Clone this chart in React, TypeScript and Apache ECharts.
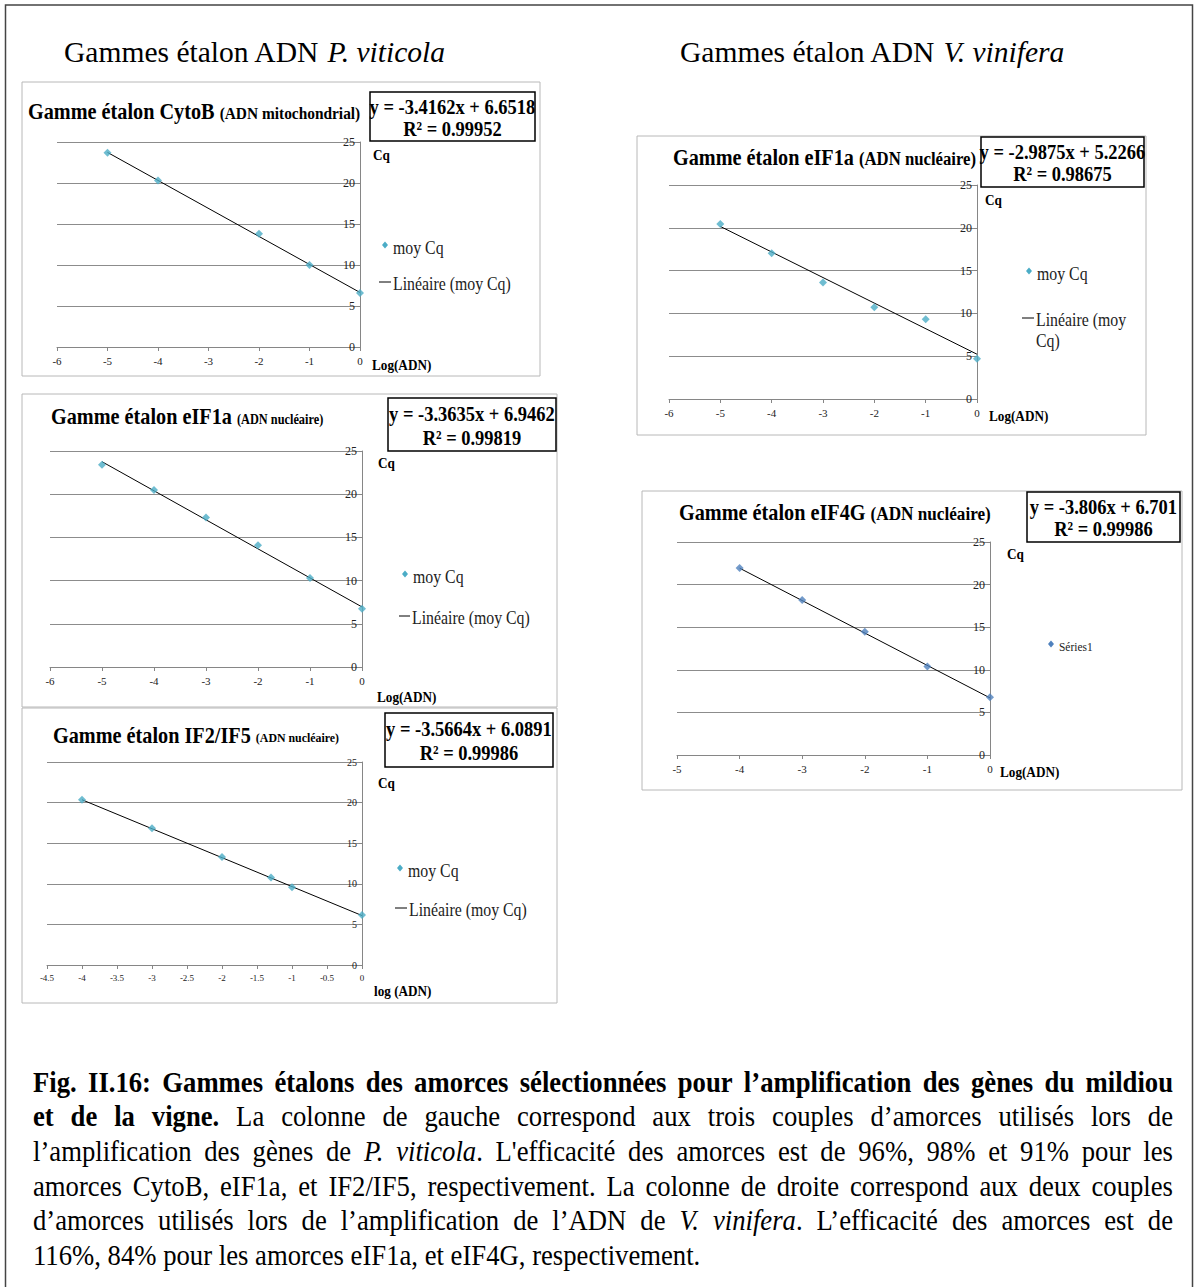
import React, { useEffect, useRef } from "react";
import * as echarts from "echarts";

// ---------- DATA ----------
const xCytoB = [-5, -4, -2, -1, 0];
const cqCytoB = [23.7, 20.3, 13.8, 10.0, 6.6];
const trendCytoB = [[-5, 23.73], [0, 6.65]];

const xEif1aP = [-5, -4, -3, -2, -1, 0];
const cqEif1aP = [23.4, 20.5, 17.3, 14.1, 10.3, 6.75];
const trendEif1aP = [[-5, 23.76], [0, 6.95]];

const xIf2 = [-4, -3, -2, -1.3, -1, 0];
const cqIf2 = [20.35, 16.85, 13.3, 10.77, 9.58, 6.17];
const trendIf2 = [[-4, 20.35], [0, 6.09]];

const xEif1aV = [-5, -4, -3, -2, -1, 0];
const cqEif1aV = [20.45, 17.03, 13.6, 10.73, 9.33, 4.7];
const trendEif1aV = [[-5, 20.16], [0, 5.23]];

const xEif4g = [-4, -3, -2, -1, 0];
const cqEif4g = [21.95, 18.18, 14.46, 10.38, 6.78];
const trendEif4g = [[-4, 21.93], [0, 6.7]];

const yTicks = { min: 0, max: 25, interval: 5 };

const headingLeft = ["Gammes étalon ADN ", "P. viticola"];
const headingRight = ["Gammes étalon ADN ", "V. vinifera"];

type Seg = { t: string; w?: "bold" | "normal"; i?: boolean };
const captionLines: { segs: Seg[]; justify: boolean }[] = [
  { segs: [{ t: "Fig. II.16: Gammes étalons des amorces sélectionnées pour l’amplification des gènes du mildiou", w: "bold" }], justify: true },
  { segs: [{ t: "et de la vigne.", w: "bold" }, { t: " La colonne de gauche correspond aux trois couples d’amorces utilisés lors de" }], justify: true },
  { segs: [{ t: "l’amplification des gènes de " }, { t: "P. viticola", i: true }, { t: ". L'efficacité des amorces est de 96%, 98% et 91% pour les" }], justify: true },
  { segs: [{ t: "amorces CytoB, eIF1a, et IF2/IF5, respectivement. La colonne de droite correspond aux deux couples" }], justify: true },
  { segs: [{ t: "d’amorces utilisés lors de l’amplification de l’ADN de " }, { t: "V. vinifera", i: true }, { t: ". L’efficacité des amorces est de" }], justify: true },
  { segs: [{ t: "116%, 84% pour les amorces eIF1a, et eIF4G, respectivement." }], justify: false },
];

// ---------- LAYOUT ----------
const FONT = '"Liberation Serif", "Times New Roman", serif';
const SX = 0.88;
const TEAL = "#4bacc6";
const BLUE = "#4f81bd";

type Panel = {
  frame: [number, number, number, number];
  grid: [number, number, number, number];
  xmin: number; xinterval: number; tickFont: number;
  xs: number[]; ys: number[]; trend: number[][]; color: string;
  title: string; sub: string; titleX: number; titleY: number; titleSize: number; subSize: number; subGap: number;
  eqBox: [number, number, number, number]; eq1: string; eq2: string; eqSize: number;
  cq: [number, number]; logX: [number, number]; logText: string;
  legend: { marker: [number, number]; text: string; textSize: number; line?: [number, number, number]; lineText?: string[] };
};

const panels: Panel[] = [
  {
    frame: [22, 82, 518, 294], grid: [57, 142, 303, 205],
    xmin: -6, xinterval: 1, tickFont: 11, xs: xCytoB, ys: cqCytoB, trend: trendCytoB, color: TEAL,
    title: "Gamme étalon CytoB", sub: "(ADN mitochondrial)", titleX: 28, titleY: 112, titleSize: 23, subSize: 17.5, subGap: 5,
    eqBox: [370, 92, 165, 49], eq1: "y = -3.4162x + 6.6518", eq2: "R² = 0.99952", eqSize: 21,
    cq: [373, 155], logX: [372, 365], logText: "Log(ADN)",
    legend: { marker: [385, 245], text: "moy Cq", textSize: 18, line: [379, 391, 282], lineText: ["Linéaire (moy Cq)"] },
  },
  {
    frame: [22, 394, 535, 313], grid: [50, 451, 312, 216],
    xmin: -6, xinterval: 1, tickFont: 11, xs: xEif1aP, ys: cqEif1aP, trend: trendEif1aP, color: TEAL,
    title: "Gamme étalon eIF1a", sub: "(ADN nucléaire)", titleX: 51, titleY: 417, titleSize: 23, subSize: 14, subGap: 5,
    eqBox: [388, 398, 168, 53], eq1: "y = -3.3635x + 6.9462", eq2: "R² = 0.99819", eqSize: 21,
    cq: [378, 463], logX: [377, 697], logText: "Log(ADN)",
    legend: { marker: [405, 574], text: "moy Cq", textSize: 18, line: [399, 410, 616], lineText: ["Linéaire (moy Cq)"] },
  },
  {
    frame: [22, 708, 535, 295], grid: [47, 762, 315, 203],
    xmin: -4.5, xinterval: 0.5, tickFont: 9, xs: xIf2, ys: cqIf2, trend: trendIf2, color: TEAL,
    title: "Gamme étalon IF2/IF5", sub: "(ADN nucléaire)", titleX: 53, titleY: 736, titleSize: 23, subSize: 13.5, subGap: 5,
    eqBox: [385, 713, 168, 54], eq1: "y = -3.5664x + 6.0891", eq2: "R² = 0.99986", eqSize: 21,
    cq: [378, 783], logX: [374, 991], logText: "log (ADN)",
    legend: { marker: [400, 868], text: "moy Cq", textSize: 18, line: [395, 407, 908], lineText: ["Linéaire (moy Cq)"] },
  },
  {
    frame: [637, 136, 509, 299], grid: [669, 185, 308, 214],
    xmin: -6, xinterval: 1, tickFont: 11, xs: xEif1aV, ys: cqEif1aV, trend: trendEif1aV, color: TEAL,
    title: "Gamme étalon eIF1a", sub: "(ADN nucléaire)", titleX: 673, titleY: 158, titleSize: 23, subSize: 19, subGap: 5,
    eqBox: [981, 137, 163, 50], eq1: "y = -2.9875x + 5.2266", eq2: "R² = 0.98675", eqSize: 21,
    cq: [985, 200], logX: [989, 416], logText: "Log(ADN)",
    legend: { marker: [1029, 271], text: "moy Cq", textSize: 18, line: [1022, 1034, 318], lineText: ["Linéaire (moy", "Cq)"] },
  },
  {
    frame: [642, 491, 540, 299], grid: [677, 542, 313, 213],
    xmin: -5, xinterval: 1, tickFont: 11, xs: xEif4g, ys: cqEif4g, trend: trendEif4g, color: BLUE,
    title: "Gamme étalon eIF4G", sub: "(ADN nucléaire)", titleX: 679, titleY: 513, titleSize: 23, subSize: 19.5, subGap: 5,
    eqBox: [1027, 492, 153, 50], eq1: "y = -3.806x + 6.701", eq2: "R² = 0.99986", eqSize: 21,
    cq: [1007, 554], logX: [1000, 772], logText: "Log(ADN)",
    legend: { marker: [1051, 644], text: "Séries1", textSize: 13 },
  },
];

const CAPTION = { x0: 33, x1: 1173, y0: 1082, lh: 34.6, size: 29, sx: 0.92 };

let _ctx: CanvasRenderingContext2D | null = null;
function ctx2d() {
  if (!_ctx) _ctx = document.createElement("canvas").getContext("2d");
  return _ctx!;
}
function fontOf(s: { w?: string; i?: boolean }, size: number) {
  return `${s.i ? "italic " : ""}${s.w === "bold" ? "bold " : ""}${size}px ${FONT}`;
}
function measure(font: string, t: string) {
  const c = ctx2d();
  c.font = font;
  return c.measureText(t).width;
}

function buildCaption(): any[] {
  const els: any[] = [];
  captionLines.forEach((line, li) => {
    const tokens: { s: Seg; txt: string; spaceBefore: boolean }[] = [];
    let pending = false;
    line.segs.forEach((seg) => {
      let cur = "";
      let curSpace = false;
      for (const ch of seg.t) {
        if (ch === " ") {
          if (cur) { tokens.push({ s: seg, txt: cur, spaceBefore: curSpace }); cur = ""; }
          pending = true;
        } else {
          if (cur === "") { curSpace = pending && tokens.length > 0; pending = false; }
          cur += ch;
        }
      }
      if (cur) tokens.push({ s: seg, txt: cur, spaceBefore: curSpace });
    });
    const size = CAPTION.size;
    const sx = CAPTION.sx;
    const spaceW = measure(fontOf({}, size), " ") * sx;
    const widths = tokens.map((w) => measure(fontOf(w.s, size), w.txt) * sx);
    const nSpaces = tokens.filter((w) => w.spaceBefore).length;
    const wordsW = widths.reduce((a, b) => a + b, 0);
    const target = CAPTION.x1 - CAPTION.x0;
    let gap = spaceW;
    let sc = 1;
    if (line.justify) {
      gap = (target - wordsW) / Math.max(1, nSpaces);
      if (gap < spaceW * 0.8) {
        gap = spaceW * 0.8;
        sc = (target - gap * nSpaces) / wordsW;
      }
    }
    let x = CAPTION.x0;
    const y = CAPTION.y0 + li * CAPTION.lh;
    tokens.forEach((w, wi) => {
      if (w.spaceBefore) x += gap;
      els.push({
        type: "text", x, y, scaleX: sx * sc,
        style: {
          text: w.txt, x: 0, y: 0, fill: "#000",
          font: fontOf(w.s, size),
          textAlign: "left", textVerticalAlign: "middle",
        },
      });
      x += widths[wi] * sc;
    });
  });
  return els;
}

function txt(text: string, x: number, y: number, size: number, opts: any = {}) {
  return {
    type: "text", x, y, scaleX: opts.sx ?? SX, z: 10,
    style: {
      text, x: 0, y: 0, fill: opts.fill ?? "#000",
      font: `${opts.italic ? "italic " : ""}${opts.bold ? "bold " : ""}${size}px ${FONT}`,
      textAlign: opts.align ?? "left", textVerticalAlign: "middle",
    },
  };
}

function buildOption() {
  const grid: any[] = [], xAxis: any[] = [], yAxis: any[] = [], series: any[] = [], graphic: any[] = [];
  // outer border
  graphic.push({ type: "rect", shape: { x: 5.5, y: 5, width: 1187, height: 1300 }, style: { fill: "none", stroke: "#444", lineWidth: 1.5 } });
  // headings
  const hs = 30;
  const hsx = 0.985;
  [[headingLeft, 64], [headingRight, 680]].forEach(([h, x]: any) => {
    graphic.push({
      type: "text", x, y: 51, scaleX: hsx,
      style: { text: `{n|${h[0]}}{i|${h[1]}}`, x: 0, y: 0, textVerticalAlign: "middle",
        rich: { n: { font: `${hs}px ${FONT}`, fill: "#000" }, i: { font: `italic ${hs}px ${FONT}`, fill: "#000" } } },
    });
  });

  panels.forEach((p, i) => {
    const [fx, fy, fw, fh] = p.frame;
    graphic.push({ type: "rect", shape: { x: fx, y: fy, width: fw, height: fh }, style: { fill: "#fff", stroke: "#b8b8b8", lineWidth: 1 }, z: -10 });
    const [gl, gt, gw, gh] = p.grid;
    grid.push({ left: gl, top: gt, width: gw, height: gh, containLabel: false });
    xAxis.push({
      gridIndex: i, type: "value", min: p.xmin, max: 0, interval: p.xinterval, position: "bottom",
      axisLine: { show: true, onZero: false, lineStyle: { color: "#868686", width: 1 } },
      axisTick: { show: true, length: 4, lineStyle: { color: "#868686" } },
      axisLabel: { show: true, fontFamily: FONT, fontSize: p.tickFont, color: "#222", margin: 8,
        formatter: (v: number) => String(Math.round(v * 10) / 10) },
      splitLine: { show: false },
    });
    yAxis.push({
      gridIndex: i, type: "value", min: yTicks.min, max: yTicks.max, interval: yTicks.interval, position: "right",
      axisLine: { show: true, onZero: false, lineStyle: { color: "#868686", width: 1 } },
      axisTick: { show: true, length: 3, inside: true, lineStyle: { color: "#868686" } },
      axisLabel: { show: true, inside: true, fontFamily: FONT, fontSize: p.tickFont + 1, color: "#222", margin: 5 },
      splitLine: { show: true, lineStyle: { color: "#8c8c8c", width: 1 } },
    });
    series.push({
      type: "line", xAxisIndex: i, yAxisIndex: i, data: p.trend, symbol: "none", silent: true,
      lineStyle: { color: "#000", width: 1 }, z: 3,
    });
    series.push({
      type: "scatter", xAxisIndex: i, yAxisIndex: i, data: p.xs.map((x, k) => [x, p.ys[k]]),
      symbol: "diamond", symbolSize: 8, itemStyle: { color: p.color }, z: 4,
    });
    // title
    graphic.push(txt(p.title, p.titleX, p.titleY, p.titleSize, { bold: true }));
    const tw = measure(`bold ${p.titleSize}px ${FONT}`, p.title) * SX;
    graphic.push(txt(p.sub, p.titleX + tw + p.subGap, p.titleY + (p.titleSize - p.subSize) * 0.22, p.subSize, { bold: true }));
    // equation box
    const [ex, ey, ew, eh] = p.eqBox;
    graphic.push({ type: "rect", shape: { x: ex, y: ey, width: ew, height: eh }, style: { fill: "#fff", stroke: "#000", lineWidth: 1.5 }, z: 5 });
    const ecx = ex + ew / 2;
    const eqFont = `bold ${p.eqSize}px ${FONT}`;
    graphic.push(txt(p.eq1, ecx - (measure(eqFont, p.eq1) * SX) / 2, ey + eh * 0.29, p.eqSize, { bold: true }));
    graphic.push(txt(p.eq2, ecx - (measure(eqFont, p.eq2) * SX) / 2, ey + eh * 0.74, p.eqSize, { bold: true }));
    // Cq & Log(ADN)
    graphic.push(txt("Cq", p.cq[0], p.cq[1], 15, { bold: true }));
    graphic.push(txt(p.logText, p.logX[0], p.logX[1], 15, { bold: true }));
    // legend
    const lg = p.legend;
    const [mx, my] = lg.marker;
    graphic.push({ type: "polygon", shape: { points: [[mx, my - 3.5], [mx + 3, my], [mx, my + 3.5], [mx - 3, my]] }, style: { fill: p.color }, z: 10 });
    graphic.push(txt(lg.text, mx + 8, my + 3, lg.textSize, { fill: "#222" }));
    if (lg.line && lg.lineText) {
      const [l1, l2, ly] = lg.line;
      graphic.push({ type: "line", shape: { x1: l1, y1: ly, x2: l2, y2: ly }, style: { stroke: "#000", lineWidth: 1 }, z: 10 });
      lg.lineText.forEach((t, k) => graphic.push(txt(t, l2 + 2, ly + 2 + k * 21, lg.textSize, { fill: "#222" })));
    }
  });

  buildCaption().forEach((e) => graphic.push(e));

  return { animation: false, backgroundColor: "#fff", grid, xAxis, yAxis, series, graphic };
}

export default function App() {
  const ref = useRef<HTMLDivElement>(null);
  useEffect(() => {
    if (!ref.current) return;
    const chart = echarts.init(ref.current, undefined, { renderer: "svg" });
    chart.setOption(buildOption());
    return () => chart.dispose();
  }, []);
  return <div ref={ref} style={{ position: "absolute", left: 0, top: 0, width: 1196, height: 1287, background: "#fff" }} />;
}
